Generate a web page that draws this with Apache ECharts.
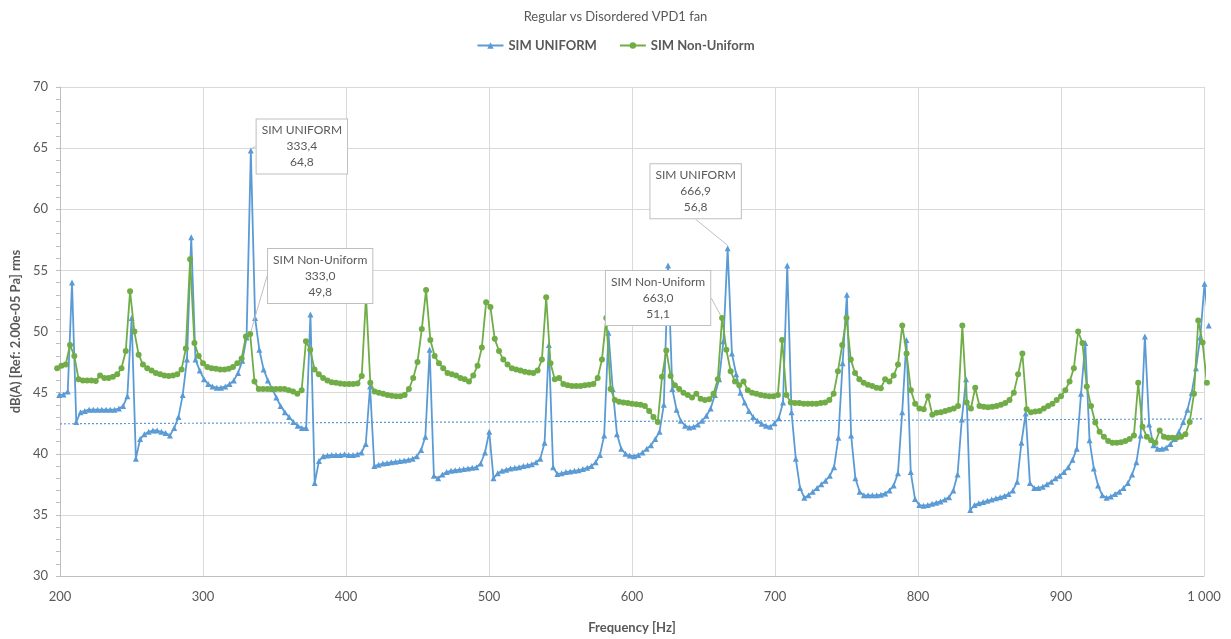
<!DOCTYPE html>
<html>
<head>
<meta charset="utf-8">
<script src="https://cdn.jsdelivr.net/npm/echarts@6/dist/echarts.min.js"></script>
<style>
html,body{margin:0;padding:0;background:#fff;}
#chart{width:1231px;height:639px;}
</style>
</head>
<body>
<div id="chart"></div>
<script>
// Chart text
const chartTitle = 'Regular vs Disordered VPD1 fan';
const seriesNames = ['SIM UNIFORM', 'SIM Non-Uniform'];
const xAxisName = 'Frequency [Hz]';
const yAxisName = 'dB(A) [Ref: 2.00e-05 Pa] rms';

// Frequency bins (FFT resolution) of the two simulations
const uniformBinWidth = 2.9772;   // Hz
const uniformFirstBin = 67;
const nonUniformBinWidth = 3.0;   // Hz
const nonUniformFirstBin = 66;

// SIM UNIFORM levels, dB(A), one per bin starting at uniformFirstBin
const uniformLevels = [
  44.8, 44.85, 45.1, 54.0,
  42.6, 43.4, 43.5, 43.6, 43.6, 43.6, 43.6, 43.6, 43.6, 43.6, 43.7, 43.9, 44.7, 51.1,
  39.6, 41.2, 41.6, 41.8, 41.9, 41.9, 41.8, 41.7, 41.5, 42.1, 43.0, 44.8, 47.7, 57.7,
  47.7, 46.8, 46.1, 45.7, 45.5, 45.4, 45.4, 45.5, 45.7, 46.0, 46.6, 47.6, 49.5, 64.8,
  51.1, 48.5, 46.9, 46.0, 45.3, 44.6, 43.9, 43.4, 43.0, 42.6, 42.3, 42.1, 42.1, 51.4,
  37.6, 39.4, 39.8, 39.85, 39.9, 39.9, 39.9, 39.95, 39.9, 39.9, 39.95, 40.1, 40.8, 45.5,
  39.0, 39.1, 39.2, 39.25, 39.3, 39.35, 39.4, 39.45, 39.5, 39.6, 39.8, 40.3, 41.4, 48.5,
  38.2, 38.0, 38.3, 38.5, 38.6, 38.65, 38.7, 38.75, 38.8, 38.85, 38.9, 39.2, 40.1, 41.8,
  38.0, 38.4, 38.6, 38.7, 38.8, 38.85, 38.9, 39.0, 39.05, 39.15, 39.3, 39.6, 40.9, 48.9,
  38.9, 38.35, 38.4, 38.5, 38.55, 38.6, 38.65, 38.75, 38.85, 39.0, 39.3, 39.9, 41.5, 49.9,
  45.3, 41.6, 40.4, 40.0, 39.85, 39.8, 39.9, 40.1, 40.4, 40.7, 41.2, 41.8, 44.0, 55.4,
  45.3, 43.6, 42.7, 42.3, 42.15, 42.2, 42.4, 42.7, 43.1, 43.7, 44.8, 46.1, 49.2, 56.8,
  48.2, 46.5, 45.0, 44.2, 43.5, 43.0, 42.7, 42.45, 42.3, 42.2, 42.5, 42.9, 44.2, 55.4,
  43.4, 39.6, 37.2, 36.4, 36.6, 36.9, 37.2, 37.5, 37.8, 38.2, 38.9, 41.3, 47.4, 53.0,
  41.5, 38.0, 36.9, 36.6, 36.6, 36.6, 36.6, 36.65, 36.75, 37.0, 37.4, 38.4, 43.4, 49.3,
  38.5, 36.3, 35.8, 35.75, 35.8, 35.9, 36.0, 36.1, 36.25, 36.45, 37.0, 38.3, 42.8, 46.1,
  35.4, 35.8, 35.95, 36.05, 36.15, 36.25, 36.35, 36.45, 36.55, 36.7, 37.0, 37.7, 40.9, 43.3,
  37.6, 37.2, 37.2, 37.3, 37.5, 37.7, 38.0, 38.2, 38.5, 38.9, 39.5, 40.4, 44.9, 49.05,
  41.1, 38.8, 37.4, 36.6, 36.4, 36.5, 36.7, 36.9, 37.2, 37.6, 38.3, 39.3, 41.5, 49.6,
  42.4, 40.7, 40.4, 40.4, 40.5, 40.8, 41.2, 41.8, 42.6, 43.6, 45.0, 47.0, 49.5, 53.9,
  50.5
];

// SIM Non-Uniform levels, dB(A), one per bin starting at nonUniformFirstBin
const nonUniformLevels = [
  47.0, 47.2, 47.3, 48.9, 48.0, 46.1, 46.0, 46.0, 46.0, 45.95, 46.4, 46.2, 46.2, 46.3,
  46.5, 47.0, 48.4, 53.3, 50.0, 48.1, 47.3, 47.0, 46.8, 46.6, 46.5, 46.4, 46.35, 46.4,
  46.5, 46.9, 48.6, 55.9, 49.05, 48.0, 47.4, 47.1, 47.0, 46.95, 46.9, 46.9, 46.95, 47.1,
  47.4, 47.8, 49.6, 49.8, 45.9, 45.3, 45.3, 45.3, 45.3, 45.3, 45.3, 45.3, 45.2, 45.1,
  44.9, 45.2, 49.2, 48.5, 46.9, 46.5, 46.2, 46.0, 45.85, 45.8, 45.75, 45.7, 45.7, 45.7,
  45.75, 46.35, 52.9, 45.8, 45.1, 45.0, 44.9, 44.8, 44.75, 44.7, 44.7, 44.8, 45.3, 46.2,
  47.5, 50.2, 53.4, 49.3, 48.0, 47.4, 47.0, 46.6, 46.5, 46.4, 46.2, 46.1, 45.9, 46.4,
  47.2, 48.7, 52.4, 52.0, 49.4, 48.4, 47.7, 47.3, 47.0, 46.9, 46.8, 46.7, 46.65, 46.6,
  46.8, 47.7, 52.8, 47.4, 46.1, 46.2, 45.7, 45.6, 45.55, 45.55, 45.55, 45.6, 45.65, 45.7,
  46.2, 47.7, 51.1, 45.3, 44.4, 44.25, 44.2, 44.15, 44.1, 44.05, 44.0, 43.9, 43.5, 43.0,
  42.6, 46.3, 48.45, 46.35, 45.6, 45.3, 45.0, 44.8, 44.6, 44.9, 44.5, 44.4, 44.45, 44.9,
  46.1, 51.1, 48.5, 46.75, 45.9, 45.6, 45.9, 45.2, 45.0, 44.9, 44.8, 44.75, 44.7, 44.7,
  44.8, 49.3, 44.8, 44.2, 44.15, 44.15, 44.1, 44.1, 44.1, 44.1, 44.15, 44.2, 44.4, 44.9,
  46.75, 48.9, 51.1, 47.7, 46.6, 46.1, 45.8, 45.65, 45.55, 45.4, 45.35, 46.1, 45.9, 46.4,
  47.3, 50.5, 48.2, 45.2, 44.1, 43.7, 43.65, 44.7, 43.2, 43.35, 43.4, 43.5, 43.6, 43.7,
  43.9, 50.5, 44.2, 43.7, 45.4, 43.9, 43.85, 43.8, 43.85, 43.9, 44.0, 44.15, 44.4, 45.0,
  46.5, 48.2, 43.65, 43.4, 43.45, 43.5, 43.7, 43.9, 44.1, 44.4, 44.7, 45.2, 45.9, 47.0,
  50.0, 49.05, 45.5, 43.9, 42.55, 41.8, 41.4, 41.05, 40.9, 40.9, 40.95, 41.05, 41.2, 41.5,
  45.8, 42.2, 41.4, 41.1, 40.9, 41.9, 41.4, 41.3, 41.3, 41.3, 41.4, 41.6, 42.6, 44.9,
  50.9, 49.1, 45.8
];

// Linear trendline of SIM UNIFORM (dotted), read at the axis ends
const trendFreqs = [200, 1000];
const trendLevels = [42.45, 42.85];

// Data callouts
const callouts = [
  { series: 0, freq: 333.4, dx: 51, dy: 31 },
  { series: 1, freq: 333.0, dx: 70, dy: -23 },
  { series: 0, freq: 666.9, dx: -32, dy: -22 },
  { series: 1, freq: 663.0, dx: -64, dy: 15 }
];

// Axis ticks
const xMin = 200, xMax = 1000, xInterval = 100;
const yMin = 30, yMax = 70, yInterval = 5;

const textColor = '#595959';
const fontFamily = 'Lato, "Open Sans", "Liberation Sans", sans-serif';
const blue = '#5b9bd5';
const green = '#70ad47';

function fmt(v) { return v.toFixed(1).replace('.', ','); }

function buildSeriesData(levels, firstBin, binWidth, seriesIdx) {
  const pts = levels.map((v, i) => [(firstBin + i) * binWidth, v]);
  const mine = callouts.filter(c => c.series === seriesIdx);
  const data = pts.map(p => ({ value: p }));
  mine.forEach(c => {
    let best = 0, bd = Infinity;
    pts.forEach((p, i) => { const d = Math.abs(p[0] - c.freq); if (d < bd) { bd = d; best = i; } });
    c.index = best;
    data[best] = {
      value: pts[best],
      label: {
        show: true,
        position: 'top',
        distance: 5,
        formatter: seriesNames[seriesIdx] + '\n' + fmt(c.freq) + '\n' + fmt(pts[best][1]),
        color: textColor,
        fontFamily: fontFamily,
        fontSize: 12,
        lineHeight: 16,
        align: 'center',
        backgroundColor: '#ffffff',
        borderColor: '#bfbfbf',
        borderWidth: 1,
        padding: [3, 5, 3, 5]
      }
    };
  });
  return data;
}

const uniformData = buildSeriesData(uniformLevels, uniformFirstBin, uniformBinWidth, 0);
const nonUniformData = buildSeriesData(nonUniformLevels, nonUniformFirstBin, nonUniformBinWidth, 1);

function layoutFor(seriesIdx) {
  return function (params) {
    const c = callouts.find(k => k.series === seriesIdx && k.index === params.dataIndex);
    if (!c) return {};
    return { dx: c.dx, dy: c.dy };
  };
}

const chart = echarts.init(document.getElementById('chart'), null, { renderer: 'canvas' });
chart.setOption({
  animation: false,
  backgroundColor: '#ffffff',
  textStyle: { fontFamily: fontFamily },
  title: {
    text: chartTitle,
    left: 'center',
    top: 5,
    textStyle: { color: textColor, fontSize: 13, fontWeight: 'normal', fontFamily: fontFamily }
  },
  legend: {
    data: seriesNames,
    top: 34,
    left: 'center',
    itemGap: 22,
    itemWidth: 26,
    itemHeight: 8,
    textStyle: { color: textColor, fontSize: 13, fontWeight: 'bold', fontFamily: fontFamily }
  },
  grid: { left: 60, right: 27, top: 87, bottom: 62, containLabel: false },
  xAxis: {
    type: 'value',
    min: xMin, max: xMax, interval: xInterval,
    name: xAxisName,
    nameLocation: 'middle',
    nameGap: 45,
    nameTextStyle: { color: textColor, fontSize: 13, fontWeight: 'bold' },
    axisLine: { show: true, lineStyle: { color: '#bfbfbf' } },
    axisTick: { show: false },
    axisLabel: {
      color: textColor, fontSize: 13, margin: 14,
      formatter: v => (v >= 1000 ? String(v).replace(/(\d)(?=(\d{3})+$)/g, '$1 ') : String(v))
    },
    splitLine: { show: true, lineStyle: { color: '#d9d9d9' } }
  },
  yAxis: {
    type: 'value',
    min: yMin, max: yMax, interval: yInterval,
    name: yAxisName,
    nameLocation: 'middle',
    nameGap: 36,
    nameRotate: 90,
    nameTextStyle: { color: textColor, fontSize: 13, fontWeight: 'bold' },
    axisLine: { show: true, lineStyle: { color: '#bfbfbf' } },
    axisTick: { show: true, length: 4, lineStyle: { color: '#bfbfbf' } },
    minorTick: { show: true, splitNumber: 5, length: 4, lineStyle: { color: '#bfbfbf' } },
    axisLabel: { color: textColor, fontSize: 13, margin: 12 },
    splitLine: { show: true, lineStyle: { color: '#d9d9d9' } }
  },
  series: [
    {
      name: seriesNames[0],
      type: 'line',
      data: uniformData,
      clip: false,
      symbol: 'triangle',
      symbolSize: 6,
      showAllSymbol: true,
      z: 2,
      lineStyle: { color: blue, width: 1.8 },
      itemStyle: { color: blue },
      label: { show: false },
      labelLine: { show: true, lineStyle: { color: '#bfbfbf', width: 1 } },
      labelLayout: layoutFor(0),
      emphasis: { disabled: true }
    },
    {
      name: seriesNames[1],
      type: 'line',
      data: nonUniformData,
      clip: false,
      symbol: 'circle',
      symbolSize: 6,
      showAllSymbol: true,
      z: 3,
      lineStyle: { color: green, width: 1.8 },
      itemStyle: { color: green },
      label: { show: false },
      labelLine: { show: true, lineStyle: { color: '#bfbfbf', width: 1 } },
      labelLayout: layoutFor(1),
      emphasis: { disabled: true }
    },
    {
      name: 'Linear (SIM UNIFORM)',
      type: 'line',
      data: trendFreqs.map((f, i) => [f, trendLevels[i]]),
      symbol: 'none',
      z: 1,
      lineStyle: { color: blue, width: 1.2, type: [2, 2] },
      emphasis: { disabled: true },
      silent: true
    }
  ]
});
</script>
</body>
</html>
